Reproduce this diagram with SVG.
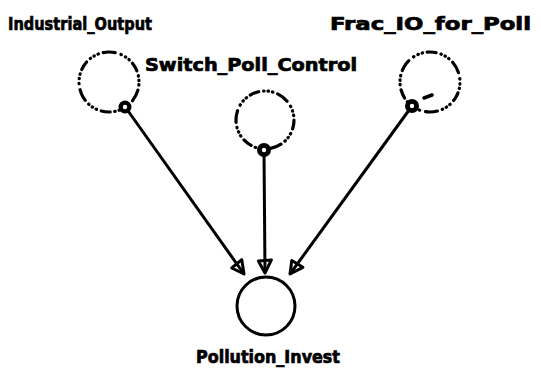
<svg xmlns="http://www.w3.org/2000/svg" width="541" height="379" viewBox="0 0 541 379">
  <style>
    .lbl { font-family: "DejaVu Sans", "Liberation Sans", sans-serif; font-weight: bold; font-size: 17px; fill: #000; stroke: #000; stroke-width: 0.7; }
    .loop { fill: none; stroke: #000; stroke-width: 3.2; stroke-linecap: round; stroke-dasharray: 0.5 4.5 0.5 4 0.5 4.5 9 5 0.5 4 0.5 4 0.5 5 12 6; }
    .ring { fill: #000; }
    .hole { fill: #fff; }
    .link { fill: none; stroke: #000; stroke-width: 3; marker-end: url(#head); }
    .stock { fill: none; stroke: #000; stroke-width: 3; }
  </style>
  <defs>
    <marker id="head" markerUnits="userSpaceOnUse" markerWidth="30" markerHeight="30" refX="0" refY="0" orient="auto" overflow="visible">
      <path d="M0,0 L-13,-6.5 L-12,6.5 Z" fill="none" stroke="#000" stroke-width="3" stroke-linejoin="round"/>
    </marker>
  </defs>

  <g id="connectors">
    <path class="link" d="M126,108 L244,274"/>
    <path class="link" d="M264,152 L265,273"/>
    <path class="link" d="M412,106 L290,274"/>
  </g>

  <g id="industrial_output">
    <circle class="loop" cx="109" cy="82" r="30" transform="rotate(60 109 82)"/>
    <circle class="ring" cx="125" cy="107" r="6.5"/>
    <circle class="hole" cx="125" cy="107" r="2.2"/>
    <text class="lbl" x="8" y="30" textLength="144" lengthAdjust="spacingAndGlyphs">Industrial_Output</text>
  </g>

  <g id="switch_poll_control">
    <circle class="loop" cx="265" cy="120" r="29" transform="rotate(90 265 120)"/>
    <circle class="ring" cx="264" cy="150" r="7"/>
    <circle class="hole" cx="264" cy="150" r="2.2"/>
    <text class="lbl" x="145" y="71" textLength="212" lengthAdjust="spacingAndGlyphs">Switch_Poll_Control</text>
  </g>

  <g id="frac_io_for_poll">
    <circle class="loop" cx="430" cy="82" r="30" transform="rotate(120 430 82)"/>
    <path d="M424,98 L432,95" stroke="#000" stroke-width="3.5" stroke-linecap="round"/>
    <circle class="ring" cx="412" cy="106" r="7"/>
    <circle class="hole" cx="412" cy="106" r="2.2"/>
    <text class="lbl" x="330" y="30" textLength="201" lengthAdjust="spacingAndGlyphs">Frac_IO_for_Poll</text>
  </g>

  <g id="pollution_invest">
    <circle class="stock" cx="266" cy="306" r="29"/>
    <text class="lbl" x="196" y="363" textLength="144" lengthAdjust="spacingAndGlyphs">Pollution_Invest</text>
  </g>
</svg>
